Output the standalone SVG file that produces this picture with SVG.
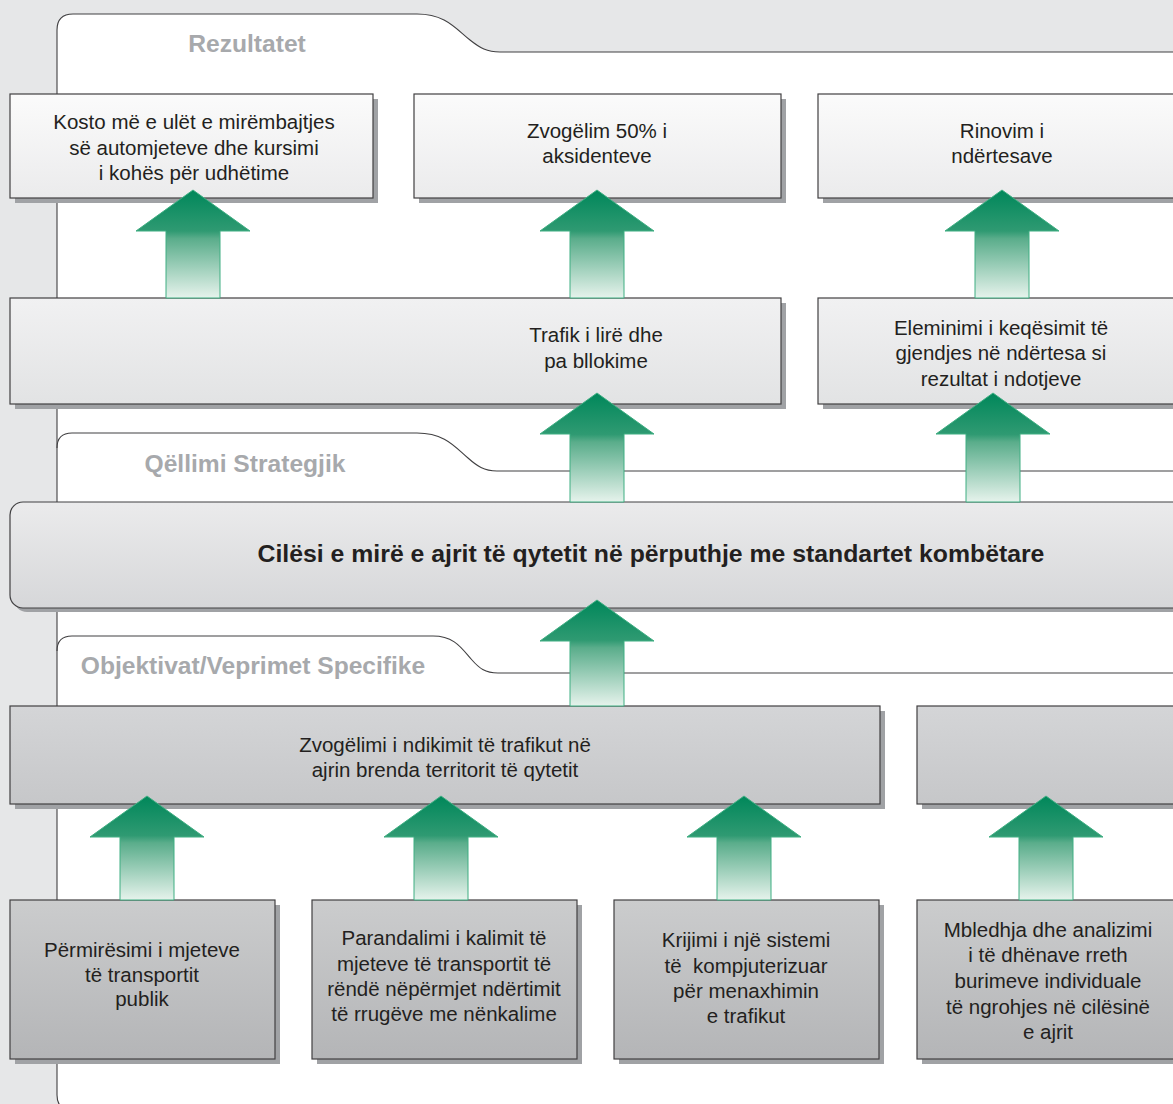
<svg xmlns="http://www.w3.org/2000/svg" width="1173" height="1104" viewBox="0 0 1173 1104">
<defs>
<linearGradient id="gArrow" x1="0" y1="0" x2="0" y2="1">
<stop offset="0" stop-color="#00875a"/>
<stop offset="0.38" stop-color="#2f9a72"/>
<stop offset="0.45" stop-color="#5aad8b"/>
<stop offset="1" stop-color="#e6f3ec"/>
</linearGradient>
<linearGradient id="gRes" x1="0" y1="0" x2="0" y2="1">
<stop offset="0" stop-color="#fbfbfb"/>
<stop offset="1" stop-color="#ebebec"/>
</linearGradient>
<linearGradient id="gMid" x1="0" y1="0" x2="0" y2="1">
<stop offset="0" stop-color="#f1f1f2"/>
<stop offset="1" stop-color="#e2e3e4"/>
</linearGradient>
<linearGradient id="gStrat" x1="0" y1="0" x2="0" y2="1">
<stop offset="0" stop-color="#ebebec"/>
<stop offset="1" stop-color="#d6d7d9"/>
</linearGradient>
<linearGradient id="gObj" x1="0" y1="0" x2="0" y2="1">
<stop offset="0" stop-color="#d4d5d7"/>
<stop offset="1" stop-color="#c6c7c9"/>
</linearGradient>
<linearGradient id="gAct" x1="0" y1="0" x2="0" y2="1">
<stop offset="0" stop-color="#cbcccd"/>
<stop offset="1" stop-color="#b4b5b7"/>
</linearGradient>
</defs>
<style>
.shadow{fill:#a0a2a5}
.box{stroke:#414042;stroke-width:1.2}
.res{fill:url(#gRes)}
.mid{fill:url(#gMid)}
.strat{fill:url(#gStrat)}
.obj{fill:url(#gObj)}
.act{fill:url(#gAct)}
.t{font-family:"Liberation Sans",Arial,sans-serif;font-size:20.5px;fill:#231f20;text-anchor:middle}
.h{font-family:"Liberation Sans",Arial,sans-serif;font-size:24.6px;font-weight:bold;fill:#a7a9ac}
.title{font-family:"Liberation Sans",Arial,sans-serif;font-size:24.8px;font-weight:bold;fill:#231f20;text-anchor:middle}
.tab{fill:none;stroke:#414042;stroke-width:1.1}
.arrow{fill:url(#gArrow);stroke:#3fae82;stroke-width:1}
</style>
<rect x="0" y="0" width="1173" height="1104" fill="#e6e7e8"/>
<g id="panel">
<path d="M57,1092 L57,30 Q57,14 73,14 L417,14 C445,14 455,28 470,40 C480,48 487,52 500,52 L1180,52 L1180,1110 L72,1110 Q57,1110 57,1095 Z" fill="#ffffff" stroke="#414042" stroke-width="1.1"/>
<path class="tab" d="M57,448 Q57,433 72,433 L417,433 C445,433 455,447 468,458 C477,466 484,471 497,471 L1180,471"/>
<path class="tab" d="M57,651 Q57,636 72,636 L433,636 C455,636 462,649 472,660 C479,668 485,673 498,673 L1180,673"/>
<text class="h" x="247" y="52" text-anchor="middle">Rezultatet</text>
<text class="h" x="245" y="472" text-anchor="middle">Qëllimi Strategjik</text>
<text class="h" x="253" y="674" text-anchor="middle">Objektivat/Veprimet Specifike</text>
</g>
<g id="r1">
<rect class="shadow" x="15" y="99" width="363" height="104"/>
<rect class="box res" x="10" y="94" width="363" height="104"/>
<text class="t"><tspan x="194" y="129">Kosto më e ulët e mirëmbajtjes</tspan><tspan x="194" y="155">së automjeteve dhe kursimi</tspan><tspan x="194" y="180">i kohës për udhëtime</tspan></text>
</g>
<g id="r2">
<rect class="shadow" x="419" y="99" width="367" height="104"/>
<rect class="box res" x="414" y="94" width="367" height="104"/>
<text class="t"><tspan x="597" y="138">Zvogëlim 50% i</tspan><tspan x="597" y="163">aksidenteve</tspan></text>
</g>
<g id="r3">
<rect class="shadow" x="823" y="99" width="380" height="104"/>
<rect class="box res" x="818" y="94" width="380" height="104"/>
<text class="t"><tspan x="1002" y="138">Rinovim i</tspan><tspan x="1002" y="163">ndërtesave</tspan></text>
</g>
<g id="m1">
<rect class="shadow" x="15" y="303" width="771" height="106"/>
<rect class="box mid" x="10" y="298" width="771" height="106"/>
<text class="t"><tspan x="596" y="342">Trafik i lirë dhe</tspan><tspan x="596" y="368">pa bllokime</tspan></text>
</g>
<g id="m2">
<rect class="shadow" x="823" y="303" width="380" height="106"/>
<rect class="box mid" x="818" y="298" width="380" height="106"/>
<text class="t"><tspan x="1001" y="335">Eleminimi i keqësimit të</tspan><tspan x="1001" y="360">gjendjes në ndërtesa si</tspan><tspan x="1001" y="386">rezultat i ndotjeve</tspan></text>
</g>
<g id="strategic">
<rect class="shadow" x="14" y="506" width="1200" height="106" rx="13"/>
<rect class="box strat" x="10" y="502" width="1200" height="106" rx="13"/>
<text class="title" x="651" y="562">Cilësi e mirë e ajrit të qytetit në përputhje me standartet kombëtare</text>
</g>
<g id="o1">
<rect class="shadow" x="15" y="711" width="870" height="98"/>
<rect class="box obj" x="10" y="706" width="870" height="98"/>
<text class="t"><tspan x="445" y="752">Zvogëlimi i ndikimit të trafikut në</tspan><tspan x="445" y="777">ajrin brenda territorit të qytetit</tspan></text>
</g>
<g id="o2">
<rect class="shadow" x="922" y="711" width="280" height="98"/>
<rect class="box obj" x="917" y="706" width="280" height="98"/>
</g>
<g id="a1">
<rect class="shadow" x="15" y="905" width="265" height="159"/>
<rect class="box act" x="10" y="900" width="265" height="159"/>
<text class="t"><tspan x="142" y="957">Përmirësimi i mjeteve</tspan><tspan x="142" y="982">të transportit</tspan><tspan x="142" y="1006">publik</tspan></text>
</g>
<g id="a2">
<rect class="shadow" x="317" y="905" width="265" height="159"/>
<rect class="box act" x="312" y="900" width="265" height="159"/>
<text class="t"><tspan x="444" y="945">Parandalimi i kalimit të</tspan><tspan x="444" y="971">mjeteve të transportit të</tspan><tspan x="444" y="996">rëndë nëpërmjet ndërtimit</tspan><tspan x="444" y="1021">të rrugëve me nënkalime</tspan></text>
</g>
<g id="a3">
<rect class="shadow" x="619" y="905" width="265" height="159"/>
<rect class="box act" x="614" y="900" width="265" height="159"/>
<text class="t" xml:space="preserve"><tspan x="746" y="947">Krijimi i një sistemi</tspan><tspan x="746" y="973">të  kompjuterizuar</tspan><tspan x="746" y="998">për menaxhimin</tspan><tspan x="746" y="1023">e trafikut</tspan></text>
</g>
<g id="a4">
<rect class="shadow" x="922" y="905" width="280" height="159"/>
<rect class="box act" x="917" y="900" width="280" height="159"/>
<text class="t"><tspan x="1048" y="937">Mbledhja dhe analizimi</tspan><tspan x="1048" y="962">i të dhënave rreth</tspan><tspan x="1048" y="988">burimeve individuale</tspan><tspan x="1048" y="1014">të ngrohjes në cilësinë</tspan><tspan x="1048" y="1039">e ajrit</tspan></text>
</g>
<g id="connectors">
<path class="arrow" d="M193,190 L250,231 L220,231 L220,298 L166,298 L166,231 L136,231 Z"/>
<path class="arrow" d="M597,190 L654,231 L624,231 L624,298 L570,298 L570,231 L540,231 Z"/>
<path class="arrow" d="M1002,190 L1059,231 L1029,231 L1029,298 L975,298 L975,231 L945,231 Z"/>
<path class="arrow" d="M597,393 L654,434 L624,434 L624,502 L570,502 L570,434 L540,434 Z"/>
<path class="arrow" d="M993,393 L1050,434 L1020,434 L1020,502 L966,502 L966,434 L936,434 Z"/>
<path class="arrow" d="M597,600 L654,641 L624,641 L624,706 L570,706 L570,641 L540,641 Z"/>
<path class="arrow" d="M147,796 L204,837 L174,837 L174,900 L120,900 L120,837 L90,837 Z"/>
<path class="arrow" d="M441,796 L498,837 L468,837 L468,900 L414,900 L414,837 L384,837 Z"/>
<path class="arrow" d="M744,796 L801,837 L771,837 L771,900 L717,900 L717,837 L687,837 Z"/>
<path class="arrow" d="M1046,796 L1103,837 L1073,837 L1073,900 L1019,900 L1019,837 L989,837 Z"/>
</g>
</svg>
